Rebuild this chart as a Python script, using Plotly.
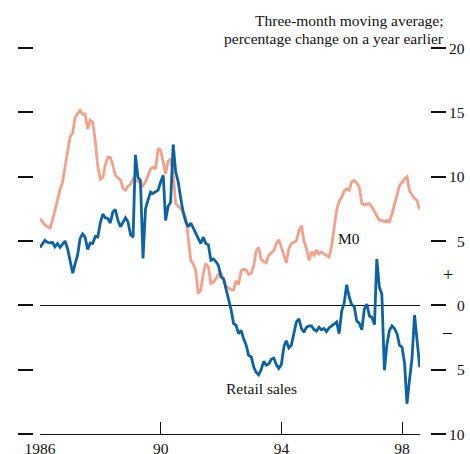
import plotly.graph_objects as go
import pandas as pd

# Three-month moving average; % change on a year earlier (monthly, from Jan 1986)
m0 = [6.75, 6.5, 6.25, 6.1, 6.0, 6.6, 7.3, 8.2, 9.0, 9.6,
      10.8, 12.1, 13.1, 13.4, 14.6, 14.9, 15.15, 14.85, 14.85, 13.7,
      14.4, 14.25, 12.8, 10.8, 9.8, 9.95, 10.9, 11.5, 11.5, 10.9,
      10.1, 9.9, 9.75, 9.1, 8.95, 9.25, 9.4, 9.85, 9.75, 9.6,
      9.5, 9.3, 9.6, 10.1, 10.6, 10.75, 10.6, 12.2, 12.05, 11.1,
      10.2, 11.2, 11.4, 10.2, 7.9, 7.7, 7.5, 7.3, 6.8, 5.1,
      3.5, 3.2, 2.7, 0.9, 1.2, 2.5, 3.25, 3.0, 1.7, 1.8,
      2.1, 2.4, 2.5, 2.1, 1.5, 1.35, 1.2, 1.2, 1.9, 1.6,
      2.7, 2.8, 2.75, 2.4, 2.5, 3.1, 4.2, 4.5, 3.6, 3.4,
      3.3, 3.9, 4.1, 4.25, 4.8, 5.1, 4.5, 3.9, 3.3, 4.4,
      4.8, 4.9, 5.0, 5.8, 6.2, 5.0, 4.4, 3.5, 4.15, 3.9,
      4.3, 4.0, 4.15, 4.0, 3.85, 3.75, 4.6, 6.0, 7.4, 8.1,
      8.4, 8.9, 9.05, 8.95, 9.6, 9.7, 9.5, 9.2, 7.9, 7.8,
      7.85, 7.9, 7.65, 7.3, 7.0, 6.6, 6.6, 6.5, 6.6, 6.5,
      7.1, 7.9, 8.7, 9.3, 9.55, 9.85, 10.0, 8.9, 8.6, 8.3,
      8.15, 7.45]

retail_sales = [4.5, 4.8, 5.05, 4.9, 4.85, 4.9, 4.55, 4.8, 4.5, 4.75,
                5.0, 4.4, 3.4, 2.5, 3.2, 3.9, 5.2, 5.55, 5.3, 4.35,
                4.85, 4.8, 5.35, 5.3, 6.4, 7.1, 6.8, 6.75, 6.4, 7.25,
                7.45, 6.6, 6.1, 6.5, 6.8, 6.5, 5.5, 5.3, 11.7, 9.95,
                9.7, 3.65, 7.5, 8.2, 8.8, 8.7, 8.8, 8.95, 9.6, 10.1,
                6.6, 7.7, 8.0, 12.5, 10.4, 9.6, 8.3, 7.2, 6.5, 6.1,
                6.4, 6.0, 5.6, 5.2, 4.8, 5.3, 4.8, 4.7, 3.5, 3.6,
                3.4, 3.1, 2.2, 2.05, 1.3, 0.6, -0.3, -1.4, -1.55, -2.2,
                -1.95, -2.6, -3.1, -3.9, -4.0, -4.8, -5.2, -5.4, -5.0, -4.35,
                -4.65, -4.55, -4.2, -4.1, -4.6, -4.9, -4.6, -3.2, -2.75, -3.3,
                -3.1, -2.2, -1.3, -1.05, -1.8, -2.1, -1.7, -1.6, -1.6, -1.9,
                -2.0, -1.7, -1.9, -1.8, -2.05, -1.75, -1.6, -1.45, -1.3, -2.2,
                -0.45, 0.2, 1.6, 0.65, 0.05, -0.1, -1.2, -1.4, -1.9, -0.3,
                0.1, -0.8, -0.95, -1.5, 3.6, 1.4, 0.9, -5.05, -3.1, -1.95,
                -1.6, -1.8, -2.2, -3.1, -3.25, -4.55, -7.65, -5.8, -4.15, -0.75,
                -2.7, -4.7, -4.8]

x_tick_vals = ["1986-01-01", "1990-01-01", "1994-01-01", "1998-01-01"]
x_tick_text = ["1986", "90", "94", "98"]
y_tick_vals = [20, 15, 10, 5, 0, -5, -10]
y_tick_text = ["20", "15", "10", "5", "0", "5", "10"]

dates_m0 = pd.date_range("1986-01-01", periods=len(m0), freq="MS")
dates_rs = pd.date_range("1986-01-01", periods=len(retail_sales), freq="MS")

W, H = 470, 454
L, R = 40, 420
T, B = 48, 20
PH = H - T - B
FONT = "Liberation Serif"
FS = 15.5
INK = "#111111"

def py(p):  # pixel y -> paper y
    return (H - B - p) / PH

fig = go.Figure()
fig.add_trace(go.Scatter(x=dates_m0, y=m0, mode="lines", name="M0",
                         line=dict(color="#F5A08A", width=2.8), hoverinfo="skip"))
fig.add_trace(go.Scatter(x=dates_rs, y=retail_sales, mode="lines", name="Retail sales",
                         line=dict(color="#0A63A3", width=2.8), hoverinfo="skip"))
# carriers for the side tick axes
fig.add_trace(go.Scatter(x=[dates_m0[0]], y=[0], yaxis="y2", mode="lines",
                         line=dict(width=0), hoverinfo="skip"))
fig.add_trace(go.Scatter(x=[dates_m0[0]], y=[0], yaxis="y3", mode="lines",
                         line=dict(width=0), hoverinfo="skip"))

side_axis = dict(overlaying="y", anchor="free", range=[-10, 20],
                 tickvals=y_tick_vals, ticks="outside", ticklen=15, tickwidth=1.6,
                 tickcolor=INK, showticklabels=False, showline=False,
                 showgrid=False, zeroline=False, automargin=False)

annotations = []
for v, t in zip(y_tick_vals, y_tick_text):
    annotations.append(dict(x=467 / W, xref="paper", y=v, yref="y", text=t,
                            xanchor="right", yanchor="middle", showarrow=False,
                            font=dict(family=FONT, size=FS, color=INK)))
annotations += [
    dict(x=448 / W, xref="paper", y=2.35, yref="y", text="+", showarrow=False,
         xanchor="center", yanchor="middle", font=dict(family=FONT, size=18, color=INK)),
    dict(x=447 / W, xref="paper", y=-2.1, yref="y", text="–", showarrow=False,
         xanchor="center", yanchor="middle", font=dict(family=FONT, size=18, color=INK)),
    dict(x=446 / W, xref="paper", y=py(21), yref="paper", text="Three-month moving average;",
         showarrow=False, xanchor="right", yanchor="middle",
         font=dict(family=FONT, size=FS, color=INK)),
    dict(x=446 / W, xref="paper", y=py(38.5), yref="paper",
         text="percentage change on a year earlier",
         showarrow=False, xanchor="right", yanchor="middle",
         font=dict(family=FONT, size=FS, color=INK)),
    dict(x=349 / W, xref="paper", y=5.2, yref="y", text="M0", showarrow=False,
         xanchor="center", yanchor="middle", font=dict(family=FONT, size=FS, color=INK)),
    dict(x=261.5 / W, xref="paper", y=-6.45, yref="y", text="Retail sales", showarrow=False,
         xanchor="center", yanchor="middle", font=dict(family=FONT, size=FS, color=INK)),
]

fig.update_layout(
    width=W, height=H,
    margin=dict(l=0, r=0, t=T, b=B, pad=0),
    paper_bgcolor="white", plot_bgcolor="white",
    showlegend=False,
    font=dict(family=FONT, size=FS, color=INK),
    xaxis=dict(domain=[L / W, R / W], range=["1986-01-01", "1998-08-06"],
               tickvals=x_tick_vals, ticktext=x_tick_text,
               ticks="inside", ticklen=12, tickwidth=1, tickcolor=INK,
               showline=True, linecolor=INK, linewidth=1,
               showgrid=False, zeroline=False, automargin=False,
               tickfont=dict(family=FONT, size=FS, color=INK)),
    yaxis=dict(range=[-10, 20], showticklabels=False, ticks="", showgrid=False,
               zeroline=True, zerolinecolor=INK, zerolinewidth=1, showline=False,
               automargin=False),
    yaxis2=dict(side="right", position=430 / W, **side_axis),
    yaxis3=dict(side="left", position=33 / W, **side_axis),
    annotations=annotations,
)

fig.write_html("out.html", config={"displayModeBar": False},
               post_script="document.body.style.margin='0';document.body.style.overflow='hidden';")
